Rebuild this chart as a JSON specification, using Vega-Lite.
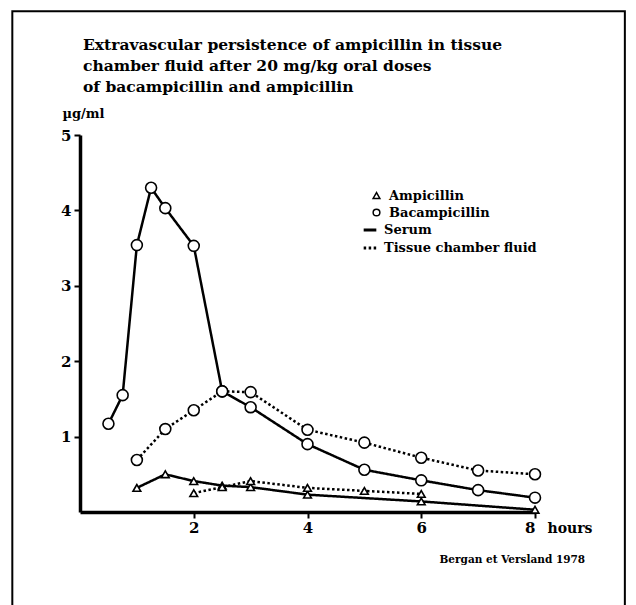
{
  "$schema": "https://vega.github.io/schema/vega-lite/v6.json",
  "width": 455,
  "height": 377,
  "autosize": {"type": "none"},
  "padding": {"left": 80, "top": 135, "right": 101, "bottom": 93},
  "background": "white",
  "title": {
    "text": ["Extravascular persistence of ampicillin in tissue", "chamber fluid after 20 mg/kg oral doses", "of bacampicillin and ampicillin"],
    "anchor": "start",
    "frame": "group",
    "dx": 3,
    "offset": -85,
    "font": "DejaVu Serif",
    "fontSize": 15.5,
    "fontWeight": "bold",
    "lineHeight": 21,
    "color": "black"
  },
  "data": {
    "values": [
      {"drug": "Bacampicillin", "fluid": "Serum", "t": 0.5, "c": 1.17},
      {"drug": "Bacampicillin", "fluid": "Serum", "t": 0.75, "c": 1.55},
      {"drug": "Bacampicillin", "fluid": "Serum", "t": 1.0, "c": 3.54},
      {"drug": "Bacampicillin", "fluid": "Serum", "t": 1.25, "c": 4.3},
      {"drug": "Bacampicillin", "fluid": "Serum", "t": 1.5, "c": 4.03},
      {"drug": "Bacampicillin", "fluid": "Serum", "t": 2.0, "c": 3.53},
      {"drug": "Bacampicillin", "fluid": "Serum", "t": 2.5, "c": 1.6},
      {"drug": "Bacampicillin", "fluid": "Serum", "t": 3.0, "c": 1.39},
      {"drug": "Bacampicillin", "fluid": "Serum", "t": 4.0, "c": 0.9},
      {"drug": "Bacampicillin", "fluid": "Serum", "t": 5.0, "c": 0.56},
      {"drug": "Bacampicillin", "fluid": "Serum", "t": 6.0, "c": 0.42},
      {"drug": "Bacampicillin", "fluid": "Serum", "t": 7.0, "c": 0.29},
      {"drug": "Bacampicillin", "fluid": "Serum", "t": 8.0, "c": 0.19},
      {"drug": "Bacampicillin", "fluid": "Tissue chamber fluid", "t": 1.0, "c": 0.69},
      {"drug": "Bacampicillin", "fluid": "Tissue chamber fluid", "t": 1.5, "c": 1.1},
      {"drug": "Bacampicillin", "fluid": "Tissue chamber fluid", "t": 2.0, "c": 1.35},
      {"drug": "Bacampicillin", "fluid": "Tissue chamber fluid", "t": 2.5, "c": 1.6},
      {"drug": "Bacampicillin", "fluid": "Tissue chamber fluid", "t": 3.0, "c": 1.59},
      {"drug": "Bacampicillin", "fluid": "Tissue chamber fluid", "t": 4.0, "c": 1.09},
      {"drug": "Bacampicillin", "fluid": "Tissue chamber fluid", "t": 5.0, "c": 0.92},
      {"drug": "Bacampicillin", "fluid": "Tissue chamber fluid", "t": 6.0, "c": 0.72},
      {"drug": "Bacampicillin", "fluid": "Tissue chamber fluid", "t": 7.0, "c": 0.55},
      {"drug": "Bacampicillin", "fluid": "Tissue chamber fluid", "t": 8.0, "c": 0.5},
      {"drug": "Ampicillin", "fluid": "Serum", "t": 1.0, "c": 0.32},
      {"drug": "Ampicillin", "fluid": "Serum", "t": 1.5, "c": 0.5},
      {"drug": "Ampicillin", "fluid": "Serum", "t": 2.0, "c": 0.41},
      {"drug": "Ampicillin", "fluid": "Serum", "t": 2.5, "c": 0.35},
      {"drug": "Ampicillin", "fluid": "Serum", "t": 3.0, "c": 0.33},
      {"drug": "Ampicillin", "fluid": "Serum", "t": 4.0, "c": 0.23},
      {"drug": "Ampicillin", "fluid": "Serum", "t": 6.0, "c": 0.14},
      {"drug": "Ampicillin", "fluid": "Serum", "t": 8.0, "c": 0.03},
      {"drug": "Ampicillin", "fluid": "Tissue chamber fluid", "t": 2.0, "c": 0.25},
      {"drug": "Ampicillin", "fluid": "Tissue chamber fluid", "t": 2.5, "c": 0.33},
      {"drug": "Ampicillin", "fluid": "Tissue chamber fluid", "t": 3.0, "c": 0.41},
      {"drug": "Ampicillin", "fluid": "Tissue chamber fluid", "t": 4.0, "c": 0.32},
      {"drug": "Ampicillin", "fluid": "Tissue chamber fluid", "t": 5.0, "c": 0.28},
      {"drug": "Ampicillin", "fluid": "Tissue chamber fluid", "t": 6.0, "c": 0.24}
    ]
  },
  "layer": [
    {
      "data": {"values": [{}]},
      "mark": {"type": "rect", "fill": null, "stroke": "black", "strokeWidth": 2, "clip": false},
      "encoding": {
        "x": {"datum": -1.19, "type": "quantitative"},
        "x2": {"datum": 9.58},
        "y": {"datum": 6.64, "type": "quantitative"},
        "y2": {"datum": -1.35}
      }
    },
    {
      "mark": {"type": "line", "color": "black", "strokeWidth": 2.5, "clip": false},
      "encoding": {
        "x": {
          "field": "t", "type": "quantitative",
          "scale": {"domain": [0, 8], "nice": false},
          "axis": {
            "values": [2, 4, 6, 8],
            "format": "d",
            "title": "hours",
            "titleAngle": 0,
            "titleAlign": "left",
            "titleBaseline": "alphabetic",
            "titleX": 467,
            "titleY": 20,
            "titleFont": "DejaVu Serif",
            "titleFontSize": 14,
            "titleFontWeight": "bold",
            "titleColor": "black",
            "grid": false,
            "domainColor": "black",
            "domainWidth": 3.5,
            "tickColor": "black",
            "tickWidth": 2,
            "tickSize": 6,
            "labelFont": "DejaVu Serif",
            "labelFontSize": 15,
            "labelFontWeight": "bold",
            "labelColor": "black",
            "labelPadding": 2
          }
        },
        "y": {
          "field": "c", "type": "quantitative",
          "scale": {"domain": [0, 5], "nice": false},
          "axis": {
            "values": [1, 2, 3, 4, 5],
            "format": "d",
            "title": "µg/ml",
            "titleAngle": 0,
            "titleAlign": "left",
            "titleBaseline": "alphabetic",
            "titleX": -18,
            "titleY": -18,
            "titleFont": "DejaVu Serif",
            "titleFontSize": 13,
            "titleFontWeight": "bold",
            "titleColor": "black",
            "grid": false,
            "domainColor": "black",
            "domainWidth": 3.5,
            "tickColor": "black",
            "tickWidth": 2,
            "tickSize": 6,
            "labelFont": "DejaVu Serif",
            "labelFontSize": 15,
            "labelFontWeight": "bold",
            "labelColor": "black",
            "labelPadding": 3
          }
        },
        "strokeDash": {
          "field": "fluid", "type": "nominal",
          "scale": {"domain": ["Serum", "Tissue chamber fluid"], "range": [[1, 0], [2.5, 2.5]]},
          "legend": {
            "title": null,
            "orient": "none",
            "legendX": 282,
            "legendY": 87,
            "symbolType": "stroke",
            "symbolStrokeColor": "black",
            "symbolStrokeWidth": 3,
            "symbolSize": 160,
            "labelFont": "DejaVu Serif",
            "labelFontSize": 13,
            "labelFontWeight": "bold",
            "labelColor": "black",
            "rowPadding": 3,
            "labelOffset": 6
          }
        },
        "detail": {"field": "drug"}
      }
    },
    {
      "transform": [{"filter": "datum.drug === 'Bacampicillin'"}],
      "mark": {"type": "point", "filled": true, "fill": "white", "stroke": "black", "strokeWidth": 1.6, "opacity": 1, "size": 120, "clip": false},
      "encoding": {
        "x": {"field": "t", "type": "quantitative"},
        "y": {"field": "c", "type": "quantitative"},
        "shape": {
          "field": "drug", "type": "nominal",
          "scale": {"domain": ["Ampicillin", "Bacampicillin"], "range": ["triangle-up", "circle"]},
          "legend": {
            "title": null,
            "orient": "none",
            "legendX": 290,
            "legendY": 54,
            "symbolSize": 45,
            "labelFont": "DejaVu Serif",
            "labelFontSize": 13,
            "labelFontWeight": "bold",
            "labelColor": "black",
            "rowPadding": 3,
            "labelOffset": 6,
            "encode": {
              "symbols": {
                "update": {
                  "stroke": {"value": "black"},
                  "fill": {"value": "white"},
                  "strokeWidth": {"value": 1.5},
                  "size": {"value": 45},
                  "opacity": {"value": 1},
                  "fillOpacity": {"value": 1},
                  "strokeOpacity": {"value": 1}
                }
              }
            }
          }
        }
      }
    },
    {
      "transform": [{"filter": "datum.drug === 'Ampicillin'"}],
      "mark": {"type": "point", "filled": true, "fill": "white", "stroke": "black", "strokeWidth": 1.6, "opacity": 1, "size": 60, "clip": false},
      "encoding": {
        "x": {"field": "t", "type": "quantitative"},
        "y": {"field": "c", "type": "quantitative"},
        "shape": {"field": "drug", "type": "nominal"}
      }
    },
    {
      "data": {"values": [{}]},
      "mark": {"type": "text", "text": "Bergan et Versland 1978", "align": "left", "baseline": "alphabetic", "font": "DejaVu Serif", "fontSize": 10.5, "fontWeight": "bold", "color": "black", "clip": false},
      "encoding": {
        "x": {"datum": 6.32, "type": "quantitative"},
        "y": {"datum": -0.68, "type": "quantitative"}
      }
    }
  ],
  "config": {"view": {"stroke": null}}
}
